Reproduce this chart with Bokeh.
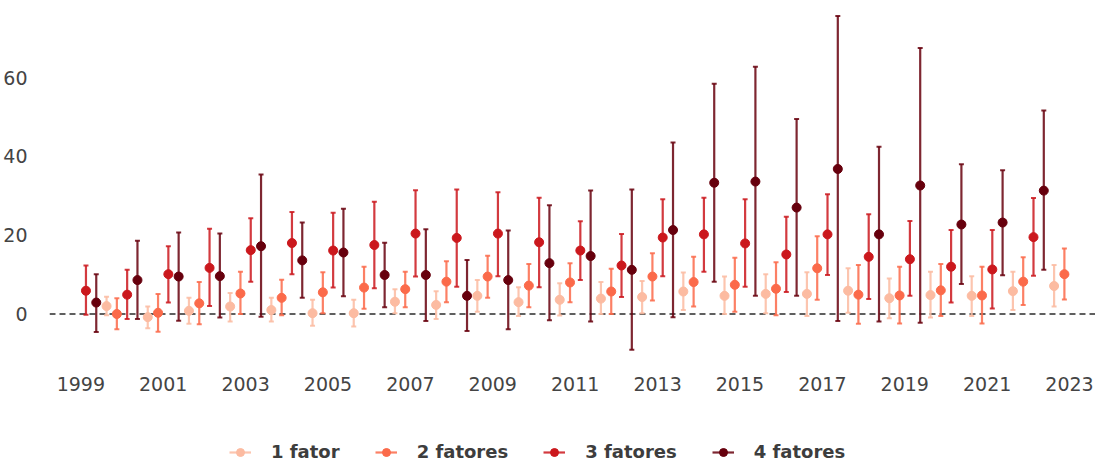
from bokeh.plotting import figure
from bokeh.layouts import column
from bokeh.models import (ColumnDataSource, Range1d, FixedTicker, Span, Legend,
                          LegendItem, Whisker, TeeHead)
from bokeh.embed import file_html
from bokeh.resources import INLINE

# ---------------- data ----------------
years_late = list(range(2000, 2024))   # 1 fator, 2 fatores
years_early = list(range(1999, 2023))  # 3 fatores, 4 fatores

f1_mean = [2.0, -0.8, 0.8, 1.9, 1.0, 0.2, 0.2, 3.1, 2.3, 4.6, 3.0, 3.6,
           3.9, 4.3, 5.7, 4.6, 5.1, 5.1, 5.9, 4.0, 4.8, 4.6, 5.8, 7.1]
f1_lo = [-0.3, -3.6, -2.5, -1.9, -1.9, -3.0, -3.2, 0.2, -1.3, 0.6, -0.5, -0.4,
         0.0, 0.2, 1.0, 0.0, 0.2, -0.5, 0.3, -1.1, -0.9, -0.5, 1.0, 1.9]
f1_hi = [4.4, 1.9, 4.1, 5.3, 4.1, 3.6, 3.6, 6.3, 5.8, 8.6, 6.8, 7.8,
         8.1, 8.4, 10.5, 9.5, 10.1, 10.6, 11.6, 9.0, 10.7, 9.6, 10.7, 12.4]

f2_mean = [0.0, 0.3, 2.7, 5.2, 4.1, 5.5, 6.7, 6.3, 8.2, 9.5, 7.2, 8.0,
           5.7, 9.5, 8.1, 7.4, 6.4, 11.6, 4.9, 4.7, 6.0, 4.7, 8.2, 10.1]
f2_lo = [-3.9, -4.5, -2.6, 0.0, -0.3, 0.2, 1.3, 1.7, 3.0, 4.1, 1.7, 3.0,
         0.0, 3.4, 1.9, 0.6, -0.3, 3.6, -2.5, -2.4, -0.5, -2.4, 2.3, 3.7]
f2_hi = [4.0, 5.1, 8.1, 10.7, 8.7, 10.6, 12.0, 10.7, 13.4, 14.8, 12.7, 12.9,
         11.5, 15.4, 14.5, 14.3, 13.1, 19.7, 12.4, 12.0, 12.7, 12.0, 14.4, 16.6]

f3_mean = [5.9, 4.9, 10.1, 11.7, 16.2, 18.0, 16.1, 17.5, 20.4, 19.3, 20.4, 18.2,
           16.1, 12.3, 19.4, 20.2, 17.9, 15.1, 20.2, 14.5, 13.9, 12.0, 11.3, 19.5]
f3_lo = [-0.2, -1.3, 2.9, 2.0, 8.2, 10.1, 6.7, 6.5, 9.5, 6.9, 9.6, 6.8,
         8.6, 4.3, 9.6, 10.7, 6.9, 5.6, 9.9, 3.8, 4.6, 2.9, 1.4, 9.7]
f3_hi = [12.3, 11.2, 17.2, 21.6, 24.3, 25.9, 25.7, 28.5, 31.4, 31.6, 30.9, 29.5,
         23.5, 20.3, 29.1, 29.5, 29.1, 24.7, 30.4, 25.3, 23.6, 21.3, 21.3, 29.4]

f4_mean = [2.9, 8.6, 9.5, 9.6, 17.2, 13.6, 15.6, 9.9, 9.9, 4.6, 8.6, 12.9,
           14.7, 11.2, 21.3, 33.3, 33.6, 27.0, 36.8, 20.2, 32.6, 22.7, 23.2, 31.3]
f4_lo = [-4.6, -1.3, -1.7, -0.9, -0.7, 4.1, 4.5, 1.7, -1.8, -4.3, -3.9, -1.6,
         -1.9, -9.1, -0.8, 8.2, 4.6, 4.6, -1.8, -1.9, -2.2, 7.6, 9.8, 11.2]
f4_hi = [10.1, 18.6, 20.7, 20.4, 35.4, 23.2, 26.7, 18.1, 21.5, 13.7, 21.2, 27.6,
         31.3, 31.6, 43.5, 58.4, 62.7, 49.5, 75.6, 42.4, 67.5, 38.0, 36.5, 51.6]

labels = ["1 fator", "2 fatores", "3 fatores", "4 fatores"]
x_ticks = list(range(1999, 2024, 2))
y_ticks = [0, 20, 40, 60]

# ---------------- styles ----------------
colors = ["#fcbba1", "#fb6a4a", "#cb181d", "#67000d"]
offsets = [-0.375, -0.125, 0.125, 0.375]

series = [
    (years_late, f1_mean, f1_lo, f1_hi),
    (years_late, f2_mean, f2_lo, f2_hi),
    (years_early, f3_mean, f3_lo, f3_hi),
    (years_early, f4_mean, f4_lo, f4_hi),
]

FONT = "DejaVu Sans"
TOTAL_W = 1092

p = figure(frame_width=1046, frame_height=350,
           x_range=Range1d(1998.24, 2023.63), y_range=Range1d(-11.8, 77.0),
           output_backend="svg", toolbar_location=None,
           min_border_left=46, min_border_right=0, min_border_top=10,
           min_border_bottom=40)
p.outline_line_color = None
p.grid.visible = False

p.xaxis.ticker = FixedTicker(ticks=x_ticks)
p.yaxis.ticker = FixedTicker(ticks=y_ticks)
for ax in (p.xaxis, p.yaxis):
    ax.axis_line_color = None
    ax.major_tick_line_color = None
    ax.minor_tick_line_color = None
    ax.major_label_text_font = FONT
    ax.major_label_text_font_size = "19px"
    ax.major_label_text_color = "#444444"
p.xaxis.major_label_standoff = 10
p.yaxis.major_label_standoff = 16

p.add_layout(Span(location=0, dimension="width", line_color="#2b2b2b",
                  line_width=1.6, line_dash="6 4", level="underlay"))

# legend figure (below the chart); its sample glyphs sit outside its range
pl = figure(width=TOTAL_W, height=63, x_range=Range1d(0, 1), y_range=Range1d(0, 1),
            output_backend="svg", toolbar_location=None,
            x_axis_location=None, y_axis_location=None,
            min_border_left=0, min_border_right=0, min_border_top=0,
            min_border_bottom=0)
pl.outline_line_color = None
pl.grid.visible = False

items = []
for (yrs, m, lo, hi), name, c, off in zip(series, labels, colors, offsets):
    src = ColumnDataSource(dict(x=[y + off for y in yrs], mean=m, lo=lo, hi=hi))
    p.segment(x0="x", y0="lo", x1="x", y1="hi", source=src,
              line_color=c, line_width=2.2, line_alpha=0.85)
    w = Whisker(source=src, base="x", upper="hi", lower="lo", line_alpha=0,
                upper_head=TeeHead(size=5, line_color=c, line_width=2, line_alpha=0.85),
                lower_head=TeeHead(size=5, line_color=c, line_width=2, line_alpha=0.85))
    p.add_layout(w)
    p.scatter("x", "mean", source=src, size=9, fill_color=c, line_color=c)

    lbar = pl.segment(x0=[-5], y0=[-5], x1=[-5], y1=[-5], line_color=c,
                      line_width=2.2, line_alpha=0.85)
    lpts = pl.scatter(x=[-5], y=[-5], size=9, fill_color=c, line_color=c)
    items.append(LegendItem(label=name, renderers=[lbar, lpts]))

legend = Legend(items=items, orientation="horizontal", location=(180, 1),
                padding=0, margin=0, spacing=35, glyph_width=22, glyph_height=20,
                label_standoff=20, border_line_color=None, background_fill_alpha=0,
                label_text_font=FONT, label_text_font_style="bold",
                label_text_font_size="18px", label_text_color="#3d3d3d")
pl.add_layout(legend, "center")

layout = column(p, pl, spacing=0)
open("out.html", "w").write(file_html(layout, INLINE))
